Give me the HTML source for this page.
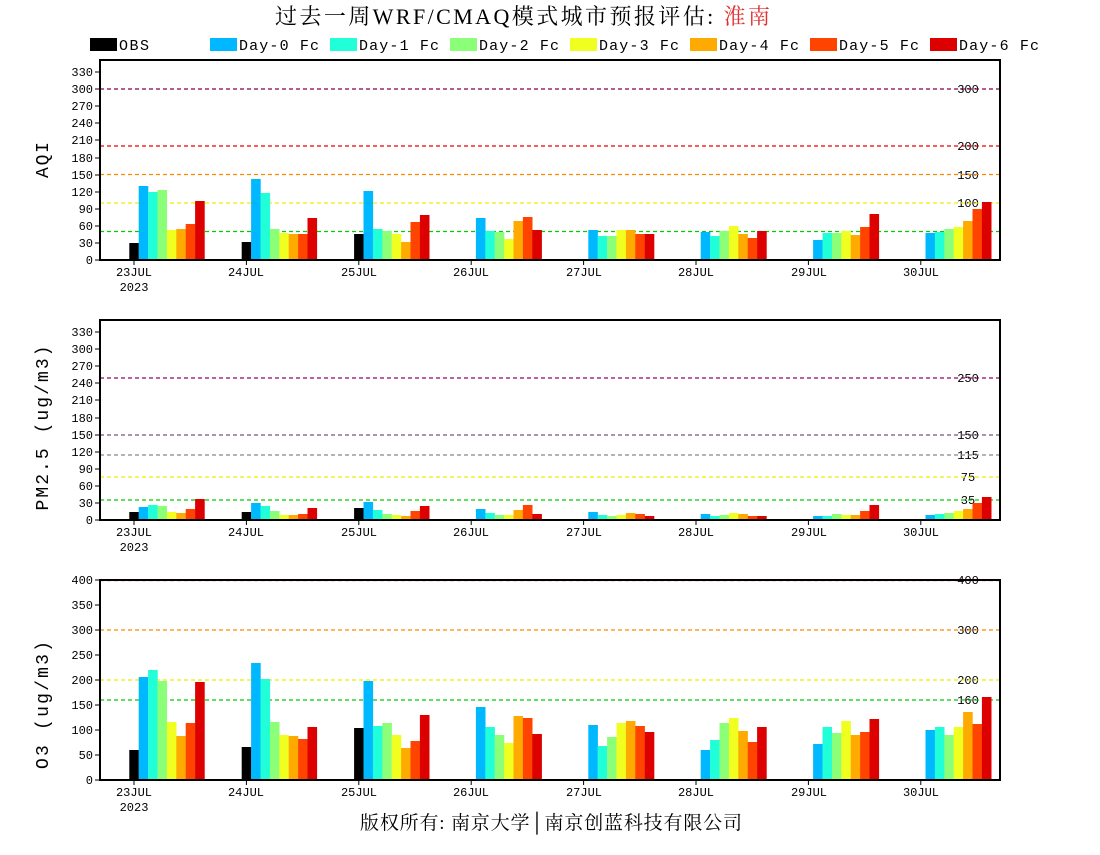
<!DOCTYPE html>
<html><head><meta charset="utf-8"><style>
body{margin:0;background:#fff}
svg text{font-family:"Liberation Mono","DejaVu Sans Mono",monospace}
</style></head><body>
<svg id="s" width="1100" height="850" xmlns="http://www.w3.org/2000/svg">
<text x="275" y="24" font-size="22" textLength="495" lengthAdjust="spacing" style="font-family:'Liberation Serif','Noto Serif CJK SC',serif">过去一周WRF/CMAQ模式城市预报评估: <tspan fill="#e03030">淮南</tspan></text>
<g font-size="15">
<rect x="90" y="38" width="27" height="13" fill="#000"/><text x="119" y="50" textLength="30">OBS</text>
<rect x="210" y="38" width="27" height="13" fill="#00b8ff"/><text x="239" y="50" textLength="80">Day-0 Fc</text>
<rect x="330" y="38" width="27" height="13" fill="#20ffd8"/><text x="359" y="50" textLength="80">Day-1 Fc</text>
<rect x="450" y="38" width="27" height="13" fill="#8cff78"/><text x="479" y="50" textLength="80">Day-2 Fc</text>
<rect x="570" y="38" width="27" height="13" fill="#f0ff20"/><text x="599" y="50" textLength="80">Day-3 Fc</text>
<rect x="690" y="38" width="27" height="13" fill="#ffaa00"/><text x="719" y="50" textLength="80">Day-4 Fc</text>
<rect x="810" y="38" width="27" height="13" fill="#ff4400"/><text x="839" y="50" textLength="80">Day-5 Fc</text>
<rect x="930" y="38" width="27" height="13" fill="#dd0000"/><text x="959" y="50" textLength="80">Day-6 Fc</text>
</g>
<g font-size="18">
<text transform="translate(48,160) rotate(-90)" text-anchor="middle" textLength="36">AQI</text>
<text transform="translate(48,428) rotate(-90)" text-anchor="middle" textLength="165">PM2.5 (ug/m3)</text>
<text transform="translate(48,705) rotate(-90)" text-anchor="middle" textLength="128">O3 (ug/m3)</text>
</g>
<g font-size="12" text-anchor="end">
<text x="93" y="264">0</text><text x="93" y="247">30</text><text x="93" y="230">60</text><text x="93" y="213">90</text><text x="93" y="196">120</text><text x="93" y="179">150</text><text x="93" y="162">180</text><text x="93" y="144">210</text><text x="93" y="127">240</text><text x="93" y="110">270</text><text x="93" y="93">300</text><text x="93" y="76">330</text>
<text x="93" y="524">0</text><text x="93" y="507">30</text><text x="93" y="490">60</text><text x="93" y="473">90</text><text x="93" y="456">120</text><text x="93" y="439">150</text><text x="93" y="422">180</text><text x="93" y="404">210</text><text x="93" y="387">240</text><text x="93" y="370">270</text><text x="93" y="353">300</text><text x="93" y="336">330</text>
<text x="93" y="784">0</text><text x="93" y="759">50</text><text x="93" y="734">100</text><text x="93" y="709">150</text><text x="93" y="684">200</text><text x="93" y="659">250</text><text x="93" y="634">300</text><text x="93" y="609">350</text><text x="93" y="584">400</text>
</g>
<g font-size="12" text-anchor="middle">
<text x="134" y="276">23JUL</text><text x="134" y="291">2023</text><text x="246" y="276">24JUL</text><text x="359" y="276">25JUL</text><text x="471" y="276">26JUL</text><text x="584" y="276">27JUL</text><text x="696" y="276">28JUL</text><text x="809" y="276">29JUL</text><text x="921" y="276">30JUL</text>
<text x="134" y="536">23JUL</text><text x="134" y="551">2023</text><text x="246" y="536">24JUL</text><text x="359" y="536">25JUL</text><text x="471" y="536">26JUL</text><text x="584" y="536">27JUL</text><text x="696" y="536">28JUL</text><text x="809" y="536">29JUL</text><text x="921" y="536">30JUL</text>
<text x="134" y="796">23JUL</text><text x="134" y="811">2023</text><text x="246" y="796">24JUL</text><text x="359" y="796">25JUL</text><text x="471" y="796">26JUL</text><text x="584" y="796">27JUL</text><text x="696" y="796">28JUL</text><text x="809" y="796">29JUL</text><text x="921" y="796">30JUL</text>
</g>
<g font-size="12" text-anchor="middle">
<text x="968" y="93">300</text><text x="968" y="150">200</text><text x="968" y="179">150</text><text x="968" y="207">100</text><text x="968" y="236">50</text>
<text x="968" y="382">250</text><text x="968" y="439">150</text><text x="968" y="459">115</text><text x="968" y="481">75</text><text x="968" y="504">35</text>
<text x="968" y="584">400</text><text x="968" y="634">300</text><text x="968" y="684">200</text><text x="968" y="704">160</text>
</g>
<text x="360" y="829" font-size="19" textLength="382" lengthAdjust="spacing" style="font-family:'Liberation Serif','Noto Serif CJK SC',serif">版权所有: 南京大学│南京创蓝科技有限公司</text>
<g id="g"></g>
</svg>
<script>
var g=document.getElementById('g'),h='';
var C=['#000','#00b8ff','#20ffd8','#8cff78','#f0ff20','#ffaa00','#ff4400','#dd0000'];
var P=[{t:60,b:260,lines:[[89,'#880044'],[146,'#ee0000'],[174.5,'#ff8800'],[203,'#eeee00'],[231.5,'#00cc00']],
tk:[260,243,226,209,192,175,158,140,123,106,89,72],
d:[[243,186,192,190,230,229,224,201],[242,179,193,229,233,234,234,218],[234,191,229,231,234,242,222,215],[0,218,231,232,239,221,217,230],[0,230,236,236,230,230,234,234],[0,232,236,231,226,234,238,231],[0,240,233,233,231,235,227,214],[0,233,232,229,227,221,209,202]]},
{t:320,b:520,lines:[[378,'#990066'],[435,'#775577'],[455,'#888888'],[477,'#eeee00'],[500,'#00cc00']],
tk:[520,503,486,469,452,435,418,400,383,366,349,332],
d:[[512,507,505,506,512,513,509,499],[512,503,506,511,515,515,514,508],[508,502,510,514,515,516,511,506],[0,509,513,515,515,510,505,514],[0,512,515,516,515,513,514,516],[0,514,516,515,513,514,516,516],[0,516,516,514,515,515,511,505],[0,515,514,513,511,509,503,497]]},
{t:580,b:780,lines:[[580.5,'#ee0000'],[630,'#ff8800'],[680,'#eeee00'],[700,'#00cc00']],
tk:[780,755,730,705,680,655,630,605,580],
d:[[750,677,670,681,722,736,723,682],[747,663,679,722,735,736,739,727],[728,681,726,723,735,748,741,715],[0,707,727,735,743,716,718,734],[0,725,746,737,723,721,726,732],[0,750,740,723,718,731,742,727],[0,744,727,733,721,735,732,719],[0,730,727,735,727,712,724,697]]}];
P.forEach(function(p){
 p.lines.forEach(function(l){h+='<line x1="100" x2="1000" y1="'+l[0]+'" y2="'+l[0]+'" stroke="'+l[1]+'" stroke-dasharray="4,3" stroke-width="1.2"/>';});
 for(var i=0;i<8;i++){var tx=134+i*112.4;
  h+='<line x1="'+tx+'" x2="'+tx+'" y1="'+p.b+'" y2="'+(p.b+5)+'" stroke="#000"/>';
  for(var j=0;j<8;j++){var y=p.d[i][j];if(!y)continue;
   h+='<rect x="'+(tx-4.7+j*9.4).toFixed(1)+'" y="'+y+'" width="9.6" height="'+(p.b-y)+'" fill="'+C[j]+'"/>';}}
 p.tk.forEach(function(y){h+='<line x1="95" x2="100" y1="'+y+'" y2="'+y+'" stroke="#000"/>';});
 h+='<rect x="100" y="'+p.t+'" width="900" height="'+(p.b-p.t)+'" fill="none" stroke="#000" stroke-width="2"/>';
});
g.innerHTML=h;
</script>
</body></html>
